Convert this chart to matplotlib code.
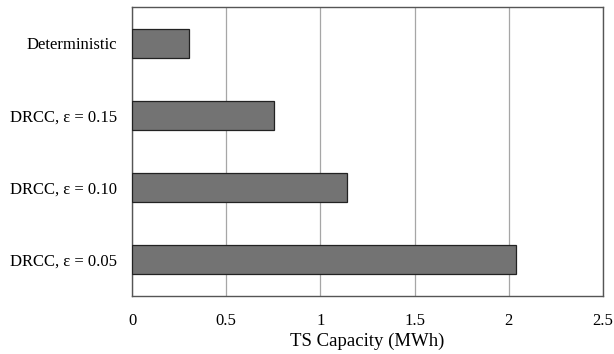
import matplotlib.pyplot as plt

plt.rcParams['font.family'] = ['Liberation Serif', 'DejaVu Serif']

labels = ['DRCC, \u03b5 = 0.05', 'DRCC, \u03b5 = 0.10', 'DRCC, \u03b5 = 0.15', 'Deterministic']
capacity = [2.04, 1.14, 0.755, 0.30]
xticks = [0, 0.5, 1, 1.5, 2, 2.5]
xticklabels = ['0', '0.5', '1', '1.5', '2', '2.5']

fig = plt.figure(figsize=(6.14, 3.54), dpi=100)
ax = fig.add_axes([0.215, 0.164, 0.767, 0.815])

ax.barh(range(len(labels)), capacity, height=0.4, color='#737373',
        edgecolor='#222222', linewidth=0.9, zorder=3)

ax.set_xlim(0, 2.5)
ax.set_ylim(-0.5, len(labels) - 0.5)
ax.set_xticks(xticks)
ax.set_xticklabels(xticklabels)
ax.set_yticks(range(len(labels)))
ax.set_yticklabels(labels)
ax.tick_params(length=0, labelsize=12, pad=11)
ax.tick_params(axis='x', pad=12)
ax.xaxis.grid(True, color='#a6a6a6', linewidth=0.9, zorder=0)
for s in ax.spines.values():
    s.set_color('#555555')
    s.set_linewidth(1.0)
ax.set_xlabel('TS Capacity (MWh)', fontsize=13.5, labelpad=3)

fig.savefig('out.png', dpi=100)
